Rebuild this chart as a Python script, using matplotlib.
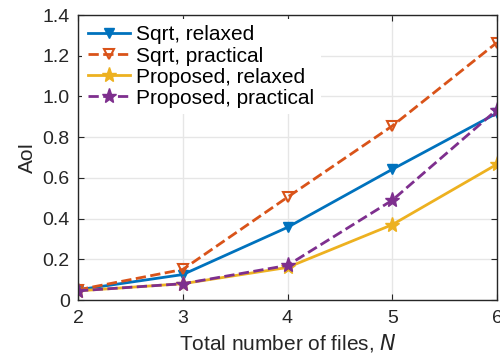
import matplotlib
matplotlib.use("Agg")
import matplotlib.pyplot as plt

N = [2, 3, 4, 5, 6]
sqrt_relaxed = [0.05, 0.125, 0.357, 0.642, 0.918]
sqrt_practical = [0.05, 0.15, 0.505, 0.855, 1.265]
prop_relaxed = [0.045, 0.08, 0.16, 0.37, 0.667]
prop_practical = [0.045, 0.08, 0.17, 0.49, 0.935]
labels = ["Sqrt, relaxed", "Sqrt, practical", "Proposed, relaxed", "Proposed, practical"]

plt.rcParams['font.family'] = ['Liberation Sans', 'DejaVu Sans']
fig = plt.figure(figsize=(5.0, 3.58), dpi=100)
ax = fig.add_axes([0.156, 0.162, 0.838, 0.796])

c1, c2, c3, c4 = '#0072BD', '#D95319', '#EDB120', '#7E2F8E'
ax.plot(N, sqrt_relaxed, '-', color=c1, lw=2, marker='v', ms=7.5, mfc=c1, label=labels[0])
ax.plot(N, sqrt_practical, '--', color=c2, lw=2, marker='v', ms=7.5, mfc='none', mew=1.5, label=labels[1])
ax.plot(N, prop_relaxed, '-', color=c3, lw=2, marker='*', ms=11, mfc=c3, label=labels[2])
ax.plot(N, prop_practical, '--', color=c4, lw=2, marker='*', ms=11, mfc=c4, label=labels[3])

ax.set_xlim(2, 6)
ax.set_ylim(0, 1.4)
ax.set_xticks([2, 3, 4, 5, 6])
ax.set_yticks([0, 0.2, 0.4, 0.6, 0.8, 1.0, 1.2, 1.4])
ax.set_yticklabels(['0', '0.2', '0.4', '0.6', '0.8', '1.0', '1.2', '1.4'])
ax.grid(True, color='#e6e6e6', lw=1)
ax.set_axisbelow(True)
ax.tick_params(direction='in', labelsize=14, length=4, pad=7, colors='#262626', top=True, right=True)
ax.tick_params(axis='y', pad=6)
for s in ax.spines.values():
    s.set_color('#262626')
    s.set_linewidth(1)
ax.set_xlabel('Total number of files, $N$', fontsize=15, color='#262626', labelpad=4)
ax.set_ylabel('AoI', fontsize=15, color='#262626', labelpad=4)
leg = ax.legend(loc='upper left', fontsize=15, frameon=True, facecolor='white', edgecolor='none',
                framealpha=1, fancybox=False, handlelength=2, handletextpad=0.3, labelspacing=0.1,
                borderpad=0.3, borderaxespad=0.2)
fig.savefig('out.png', dpi=100)
